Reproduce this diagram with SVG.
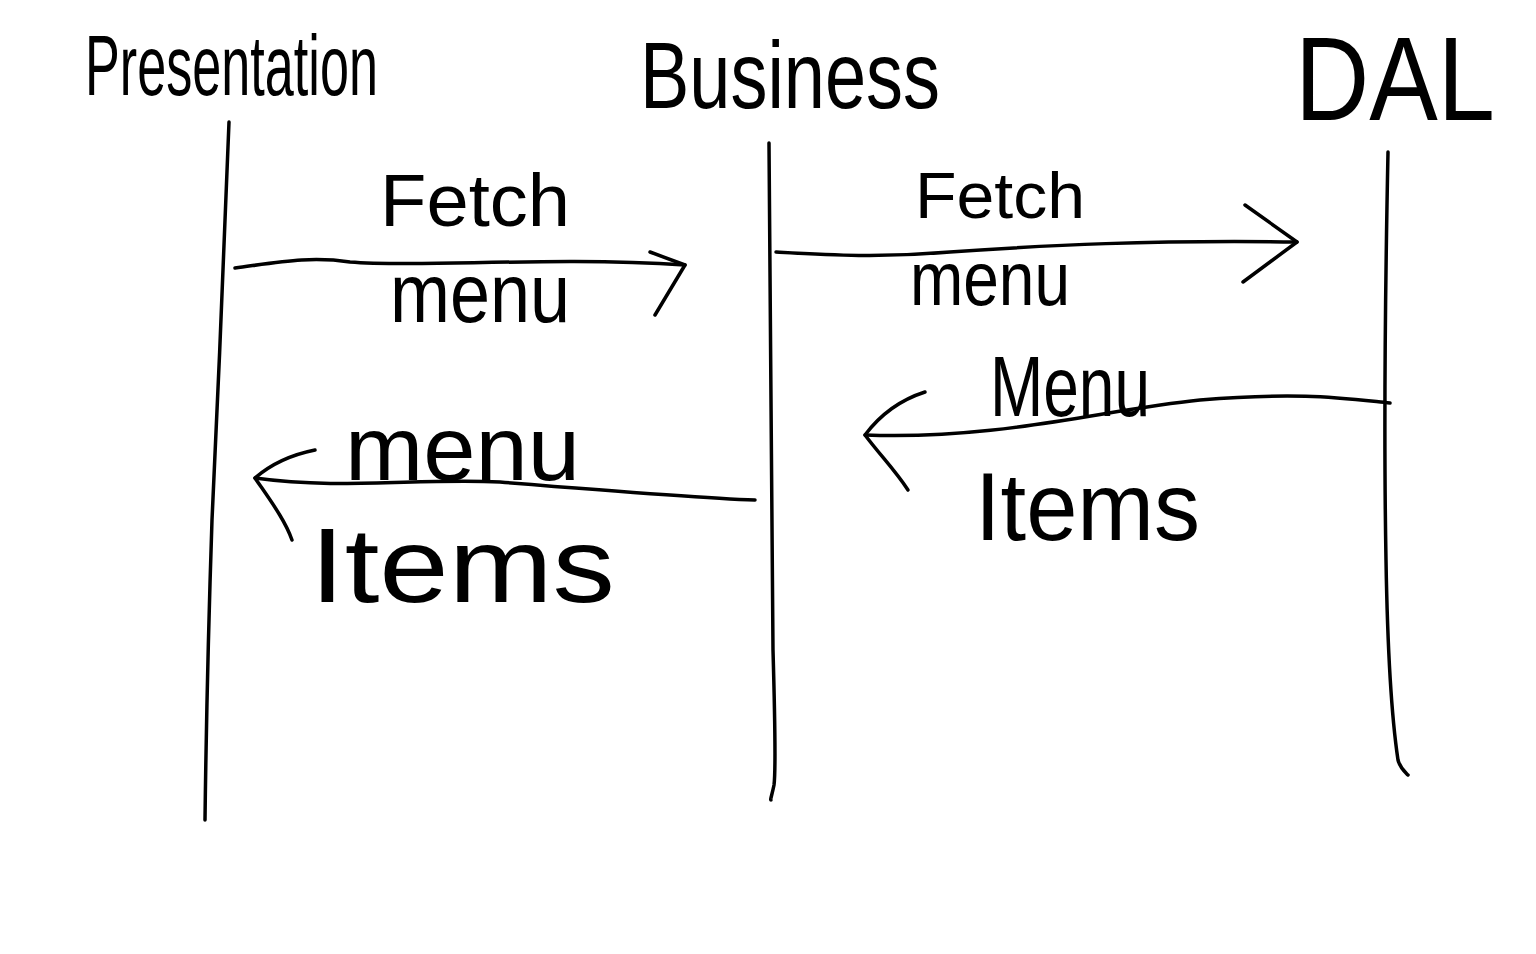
<svg xmlns="http://www.w3.org/2000/svg" width="1536" height="954" viewBox="0 0 1536 954">
<style>
.ink{fill:none;stroke:#000;stroke-width:3.5;stroke-linecap:round;stroke-linejoin:round}
.t{font-family:"Liberation Sans",Arial,sans-serif;fill:#000}
</style>
<rect width="1536" height="954" fill="#fff"/>
<g id="presentation">
<text class="t" x="85" y="95" font-size="86" textLength="293" lengthAdjust="spacingAndGlyphs">Presentation</text>
<path class="ink" d="M229,122 C226,200 218,400 212,520 C208,640 206,740 205,820"/>
</g>
<g id="business">
<text class="t" x="640" y="108" font-size="95" textLength="300" lengthAdjust="spacingAndGlyphs">Business</text>
<path class="ink" d="M769,143 C770,300 772,500 773,650 C775,720 776,770 774,785 C772,795 770,800 771,800"/>
</g>
<g id="dal">
<text class="t" x="1295" y="120" font-size="118" textLength="200" lengthAdjust="spacingAndGlyphs">DAL</text>
<path class="ink" d="M1388,152 C1385,300 1384,450 1386,560 C1388,680 1395,740 1398,760 C1400,768 1405,772 1408,775"/>
</g>
<g id="connectors">
<g id="fetch1">
<path class="ink" d="M235,268 C280,262 310,256 350,262 C420,268 550,256 685,265"/>
<path class="ink" d="M650,252 L685,265 L655,315"/>
<text class="t" x="380" y="226" font-size="74" textLength="190" lengthAdjust="spacingAndGlyphs">Fetch</text>
<text class="t" x="390" y="322" font-size="84" textLength="180" lengthAdjust="spacingAndGlyphs">menu</text>
</g>
<g id="fetch2">
<path class="ink" d="M776,252 C830,255 880,258 950,252 C1050,245 1150,240 1297,242"/>
<path class="ink" d="M1245,205 L1297,242 L1243,282"/>
<text class="t" x="915" y="218" font-size="64" textLength="170" lengthAdjust="spacingAndGlyphs">Fetch</text>
<text class="t" x="910" y="305" font-size="76" textLength="160" lengthAdjust="spacingAndGlyphs">menu</text>
</g>
<g id="items1">
<path class="ink" d="M1390,403 C1340,398 1300,392 1200,400 C1100,410 1000,440 865,435"/>
<path class="ink" d="M925,392 C900,400 880,415 865,435 C880,455 895,470 908,490"/>
<text class="t" x="990" y="416" font-size="86" textLength="160" lengthAdjust="spacingAndGlyphs">Menu</text>
<text class="t" x="975" y="540" font-size="96" textLength="225" lengthAdjust="spacingAndGlyphs">Items</text>
</g>
<g id="items2">
<path class="ink" d="M755,500 C700,498 600,490 500,482 C420,478 340,490 255,478"/>
<path class="ink" d="M315,450 C290,455 270,465 255,478 C270,500 285,520 292,540"/>
<text class="t" x="345" y="480" font-size="90" textLength="235" lengthAdjust="spacingAndGlyphs">menu</text>
<text class="t" x="310" y="602" font-size="106" textLength="305" lengthAdjust="spacingAndGlyphs">Items</text>
</g>
</g>
</svg>
